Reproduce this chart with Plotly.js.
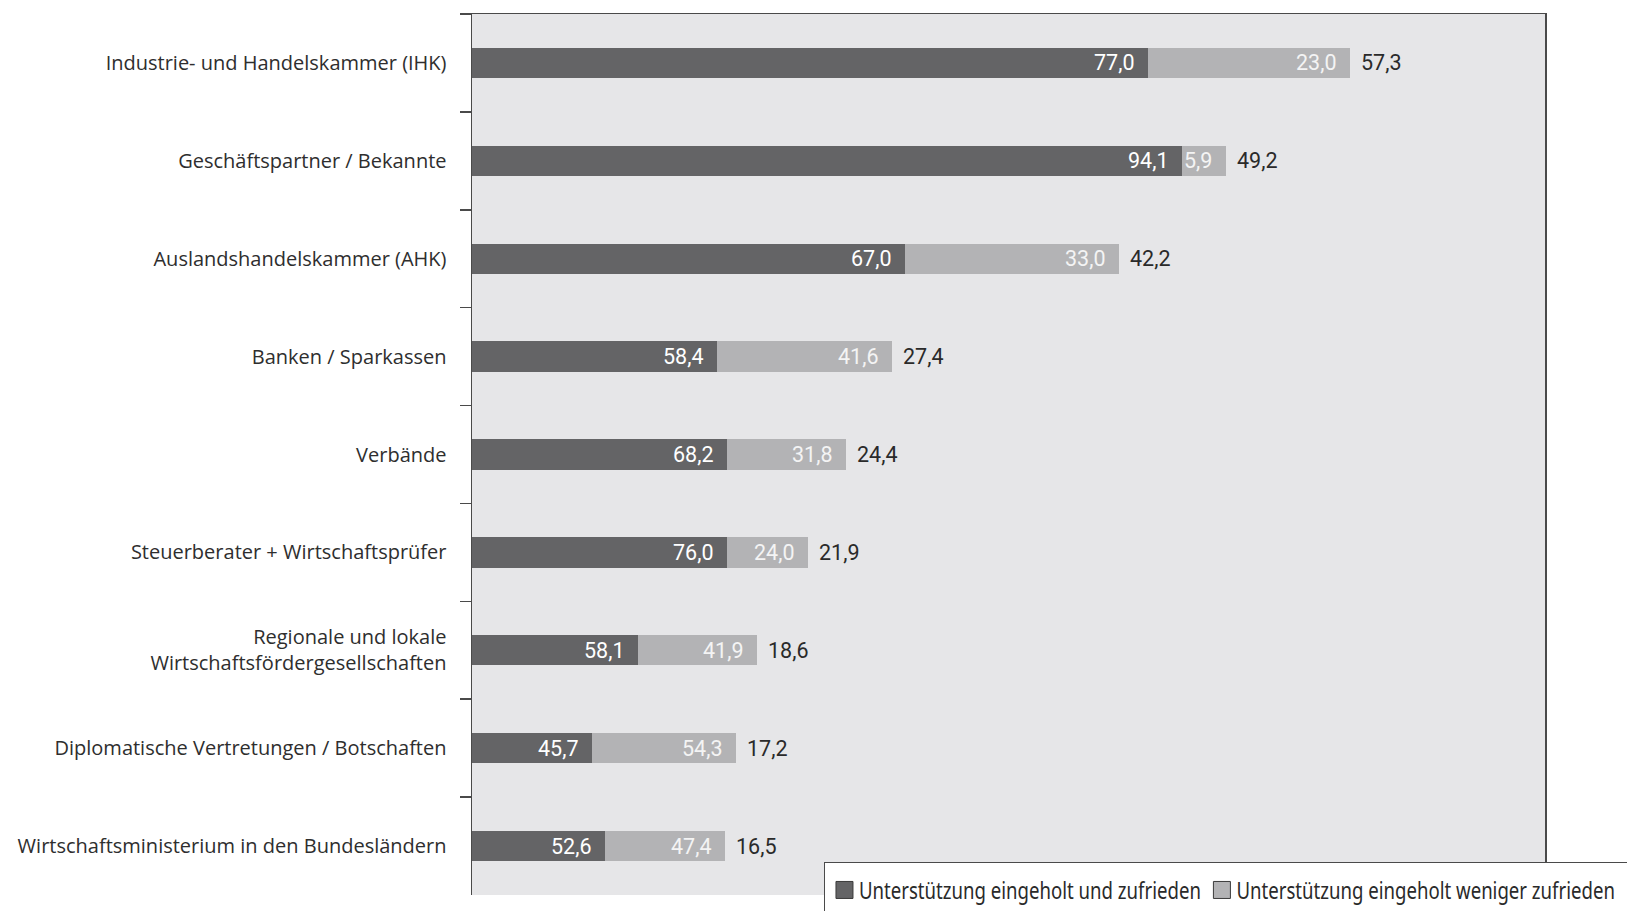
<!DOCTYPE html>
<html>
<head>
<meta charset="utf-8">
<script src="https://cdn.plot.ly/plotly-3.0.1.min.js"></script>
<style>
  html, body { margin: 0; padding: 0; background: #ffffff; overflow: hidden; }
  #chart { width: 1627px; height: 911px; }
</style>
</head>
<body>
<div id="chart"></div>
<script>
// Sources of support, top to bottom
const categories = [
  "Industrie- und Handelskammer (IHK)",
  "Geschäftspartner / Bekannte",
  "Auslandshandelskammer (AHK)",
  "Banken / Sparkassen",
  "Verbände",
  "Steuerberater + Wirtschaftsprüfer",
  "Regionale und lokale<br>Wirtschaftsfördergesellschaften",
  "Diplomatische Vertretungen / Botschaften",
  "Wirtschaftsministerium in den Bundesländern"
];
// Share of firms that sought support from each source (%)
const totalShare = [57.3, 49.2, 42.2, 27.4, 24.4, 21.9, 18.6, 17.2, 16.5];
// Of those: satisfied vs. less satisfied (% of the source's users)
const satisfiedPct     = [77.0, 94.1, 67.0, 58.4, 68.2, 76.0, 58.1, 45.7, 52.6];
const lessSatisfiedPct = [23.0, 5.9, 33.0, 41.6, 31.8, 24.0, 41.9, 54.3, 47.4];

const seriesNames = [
  "Unterstützung eingeholt und zufrieden",
  "Unterstützung eingeholt weniger zufrieden"
];

const fmt = v => v.toFixed(1).replace(".", ",");

// Segment lengths: each bar's total split by the satisfaction shares
const satisfiedLen = totalShare.map((t, i) => t * satisfiedPct[i] / 100);
const lessLen = totalShare.map((t, i) => t * lessSatisfiedPct[i] / 100);

const numFont = "Roboto, 'Liberation Sans', sans-serif";
const numSize = 21.5;

const traces = [
  {
    type: "bar", orientation: "h",
    name: seriesNames[0],
    y: categories, x: satisfiedLen,
    marker: { color: "#646466" },
    hoverinfo: "skip"
  },
  {
    type: "bar", orientation: "h",
    name: seriesNames[1],
    y: categories, x: lessLen,
    marker: { color: "#b3b3b5" },
    hoverinfo: "skip"
  }
];

// Value labels, positioned from the same data
const annotations = [];
categories.forEach((c, i) => {
  annotations.push({
    x: satisfiedLen[i], y: c, xref: "x", yref: "y",
    text: fmt(satisfiedPct[i]), showarrow: false,
    xanchor: "right", xshift: -12,
    font: { family: numFont, size: numSize, color: "#ffffff" }
  });
  annotations.push({
    x: totalShare[i], y: c, xref: "x", yref: "y",
    text: fmt(lessSatisfiedPct[i]), showarrow: false,
    xanchor: "right", xshift: -12,
    font: { family: numFont, size: numSize, color: "#f4f4f4" }
  });
  annotations.push({
    x: totalShare[i], y: c, xref: "x", yref: "y",
    text: fmt(totalShare[i]), showarrow: false,
    xanchor: "left", xshift: 9,
    font: { family: numFont, size: numSize, color: "#2a2a2a" }
  });
});

const layout = {
  width: 1627, height: 911,
  margin: { l: 472, r: 82, t: 14, b: 16, pad: 0, autoexpand: false },
  paper_bgcolor: "#ffffff",
  plot_bgcolor: "#e6e6e8",
  barmode: "stack",
  bargap: 0.69,
  separators: ",.",
  showlegend: true,
  xaxis: {
    range: [0, 70], side: "top",
    showline: true, linecolor: "#4a4a4a", linewidth: 1.5,
    showticklabels: false, ticks: "", showgrid: false, zeroline: false,
    fixedrange: true
  },
  yaxis: {
    type: "category", autorange: "reversed",
    showline: true, linecolor: "#4a4a4a", linewidth: 1.5, mirror: true,
    ticks: "outside", tickson: "boundaries", ticklen: 11, tickwidth: 1.5, tickcolor: "#4a4a4a",
    ticklabelstandoff: 20,
    tickfont: { family: "'Open Sans', sans-serif", size: 20, color: "#2e2e2e" },
    showgrid: false, zeroline: false, fixedrange: true
  },
  legend: {
    orientation: "h",
    x: 0.3285, xanchor: "left",
    y: 0.0375, yanchor: "top",
    bgcolor: "#ffffff", bordercolor: "#4a4a4a", borderwidth: 1,
    font: { family: "'Noto Sans', 'Open Sans', sans-serif", size: 24, color: "#2a2a2a" },
    traceorder: "normal",
    itemwidth: 30
  },
  annotations: annotations
};

// Legend styling: narrow (horizontally compressed) labels, larger outlined swatches,
// items sitting low in a box that runs off the bottom/right edge.
function styleLegend(gd) {
  const k = 0.775;           // horizontal compression of legend text
  const symHalf = 8.5;       // half size of the swatch
  const itemGap = 21;        // from end of one label to the next swatch centre
  const leg = gd.querySelector(".legend");
  if (!leg) return;
  const bg = leg.querySelector("rect.bg");
  const bgBox = bg.getBoundingClientRect();
  const L = bgBox.left, T = bgBox.top;

  const parseT = el => {
    const m = /translate\(\s*([-\d.e]+)[\s,]*([-\d.e]+)?\s*\)/.exec(el.getAttribute("transform") || "");
    return m ? [parseFloat(m[1]), m[2] ? parseFloat(m[2]) : 0] : [0, 0];
  };

  const items = Array.from(leg.querySelectorAll("g.traces"));
  let nextSym = L + 19.5;
  let dy = 0;
  items.forEach((g, idx) => {
    const p = g.querySelector(".legendpoints path");
    if (p) {
      p.setAttribute("d", `M${symHalf},${symHalf}H${-symHalf}V${-symHalf}H${symHalf}Z`);
      p.style.stroke = "#3a3a3a";
      p.style.strokeWidth = "1px";
      p.style.strokeOpacity = "1";
    }
    const pr = p ? p.getBoundingClientRect() : g.getBoundingClientRect();
    const cx = pr.left + pr.width / 2;
    if (idx === 0) dy = (T + 27.5) - (pr.top + pr.height / 2);
    const [gx, gy] = parseT(g);
    g.setAttribute("transform", `translate(${gx + nextSym - cx},${gy})`);

    const t = g.querySelector("text.legendtext");
    const x0 = parseFloat(t.getAttribute("x")) || 0;
    const tr = t.getBoundingClientRect();
    const wantStart = nextSym + symHalf + 6;
    const delta = wantStart - tr.left;
    t.setAttribute("transform", `translate(${x0 * (1 - k) + delta},0) scale(${k},1)`);
    nextSym = wantStart + k * tr.width + itemGap;
  });

  const sb = leg.querySelector(".scrollbox");
  if (sb) {
    const [sx, sy] = parseT(sb);
    sb.setAttribute("transform", `translate(${sx},${sy + dy})`);
  }
  bg.setAttribute("height", parseFloat(bg.getAttribute("height")) + Math.max(dy, 0) + 40);
  bg.setAttribute("width", parseFloat(bg.getAttribute("width")) + 200);
}

Plotly.newPlot("chart", traces, layout, { displayModeBar: false, staticPlot: true })
  .then(styleLegend);
</script>
</body>
</html>
